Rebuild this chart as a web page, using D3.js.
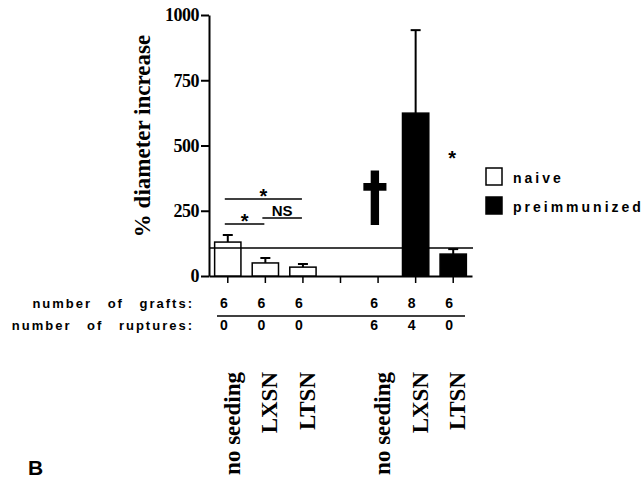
<!DOCTYPE html>
<html lang="en">
<head>
<meta charset="UTF-8">
<script src="https://d3js.org/d3.v7.min.js"></script>
<style>
  body { margin: 0; background: white; }
  .serif { font-family: "Liberation Serif", "Times New Roman", serif; font-weight: bold; }
  .sans { font-family: "Liberation Sans", Arial, sans-serif; font-weight: bold; }
</style>
</head>
<body>
<div id="chart"></div>
<script>
  // data
  var groups = ["naive", "naive", "naive", "preimmunized", "preimmunized", "preimmunized"];
  var labels = ["no seeding", "LXSN", "LTSN", "no seeding", "LXSN", "LTSN"];
  var means = [130, 50, 34, 0, 624, 84];
  var upper = [157, 69, 46, 0, 942, 103];
  var grafts = [6, 6, 6, 6, 8, 6];
  var ruptures = [0, 0, 0, 6, 4, 0];
  var yTicks = [0, 250, 500, 750, 1000];
  var refValue = 107;
  // significance brackets: [from bar, to bar, height, label]
  var brackets = [[0, 2, 295, "*"], [0, 1, 199, "*"], [1, 2, 222, "NS"]];

  var width = 643, height = 483;
  var svg = d3.select("#chart").append("svg")
    .attr("width", width)
    .attr("height", height);

  // slot keys, with an empty slot between the two groups
  var keys = labels.map((d, i) => groups[i] + "-" + d);
  var slots = keys.slice(0, 3).concat(["gap"], keys.slice(3));

  var x = d3.scaleBand()
    .domain(slots)
    .range([209, 472])
    .paddingInner(0.3)
    .paddingOuter(0.15);
  var cx = i => x(keys[i]) + x.bandwidth() / 2;

  var y = d3.scaleLinear()
    .domain([0, 1000])
    .range([276, 15]);

  // Y axis
  var yAxis = svg.append("g")
    .attr("transform", "translate(209,0)")
    .call(d3.axisLeft(y).tickValues(yTicks).tickFormat(d3.format("d"))
      .tickSize(8).tickSizeOuter(0).tickPadding(2));
  yAxis.select(".domain").attr("stroke-width", 2);
  yAxis.selectAll(".tick line").attr("stroke-width", 2);
  yAxis.selectAll("text")
    .attr("class", "serif")
    .style("font-size", "18px")
    .style("letter-spacing", "-0.5px")
    .attr("fill", "black");

  // X axis
  var xAxis = svg.append("g")
    .attr("transform", "translate(0,276)")
    .call(d3.axisBottom(x).tickSize(7).tickSizeOuter(0).tickFormat(""));
  xAxis.select(".domain").attr("stroke-width", 2);
  xAxis.selectAll(".tick line").attr("stroke-width", 1.5);

  svg.append("text")
    .attr("class", "serif")
    .attr("transform", "translate(150,136) rotate(-90)")
    .attr("text-anchor", "middle")
    .style("font-size", "23px")
    .text("% diameter increase");

  // error bars (upper only)
  var eb = svg.append("g").attr("stroke", "black").attr("stroke-width", 2);
  means.forEach(function(m, i) {
    if (upper[i] <= m) return;
    eb.append("line")
      .attr("x1", cx(i)).attr("x2", cx(i))
      .attr("y1", y(m)).attr("y2", y(upper[i]));
    eb.append("line")
      .attr("x1", cx(i) - 5).attr("x2", cx(i) + 5)
      .attr("y1", y(upper[i])).attr("y2", y(upper[i]));
  });

  // bars
  svg.selectAll("rect.bar")
    .data(means)
    .enter()
    .append("rect")
    .attr("class", "bar")
    .attr("x", (d, i) => x(keys[i]))
    .attr("y", d => y(d))
    .attr("width", x.bandwidth())
    .attr("height", d => y(0) - y(d))
    .attr("fill", (d, i) => groups[i] == "naive" ? "white" : "black")
    .attr("stroke", "black")
    .attr("stroke-width", 1.5);

  // reference line
  svg.append("line")
    .attr("x1", 209).attr("x2", 473)
    .attr("y1", y(refValue)).attr("y2", y(refValue))
    .attr("stroke", "black").attr("stroke-width", 1.5);

  // brackets
  brackets.forEach(function(b) {
    var x1 = cx(b[0]) - 3, x2 = cx(b[1]) - 1;
    svg.append("line")
      .attr("x1", x1).attr("x2", x2)
      .attr("y1", y(b[2])).attr("y2", y(b[2]))
      .attr("stroke", "black").attr("stroke-width", 1.5);
    svg.append("text")
      .attr("class", "sans")
      .attr("x", (x1 + x2) / 2)
      .attr("y", y(b[2]) + (b[3] == "*" ? 4 : -2))
      .attr("text-anchor", "middle")
      .style("font-size", b[3] == "*" ? "20px" : "15px")
      .text(b[3]);
  });

  // star over preimmunized LTSN, dagger over preimmunized no seeding
  svg.append("text")
    .attr("class", "sans")
    .attr("x", cx(5) - 1)
    .attr("y", y(471) + 12)
    .attr("text-anchor", "middle")
    .style("font-size", "20px")
    .text("*");
  svg.append("text")
    .attr("transform", "translate(" + (cx(3) - 3) + "," + y(217) + ") scale(1,1.25)")
    .attr("text-anchor", "middle")
    .style("font-family", "'DejaVu Sans', sans-serif")
    .style("font-weight", "bold")
    .style("font-size", "52px")
    .text("†");

  // legend
  var legend = [["naive", "white", 168], ["preimmunized", "black", 197]];
  legend.forEach(function(l) {
    svg.append("rect")
      .attr("x", 486).attr("y", l[2])
      .attr("width", 16).attr("height", 17)
      .attr("fill", l[1]).attr("stroke", "black").attr("stroke-width", 1.5);
    svg.append("text")
      .attr("class", "sans")
      .attr("x", 513).attr("y", l[2] + 15)
      .style("font-size", "14px")
      .style("letter-spacing", "3px")
      .text(l[0]);
  });

  // table under the axis
  var rows = [["number of grafts:", grafts, 308], ["number of ruptures:", ruptures, 330]];
  rows.forEach(function(r) {
    svg.append("text")
      .attr("class", "sans")
      .attr("x", 194).attr("y", r[2])
      .attr("text-anchor", "end")
      .style("font-size", "13px")
      .style("letter-spacing", "2px")
      .style("word-spacing", "10px")
      .text(r[0]);
    svg.selectAll(null)
      .data(r[1])
      .enter()
      .append("text")
      .attr("class", "sans")
      .attr("x", (d, i) => cx(i) - 4)
      .attr("y", r[2])
      .attr("text-anchor", "middle")
      .style("font-size", "14px")
      .text(d => d);
  });
  svg.append("line")
    .attr("x1", 217).attr("x2", 465)
    .attr("y1", 316).attr("y2", 316)
    .attr("stroke", "black").attr("stroke-width", 1.5);

  // category labels
  svg.selectAll("text.cat")
    .data(labels)
    .enter()
    .append("text")
    .attr("class", "cat serif")
    .attr("transform", (d, i) => "translate(" + (cx(i) + 12) + ",372) rotate(-90)")
    .attr("text-anchor", "end")
    .style("font-size", "23px")
    .text(d => d);

  svg.append("text")
    .attr("class", "sans")
    .attr("x", 28).attr("y", 475)
    .style("font-size", "21px")
    .text("B");
</script>
</body>
</html>
